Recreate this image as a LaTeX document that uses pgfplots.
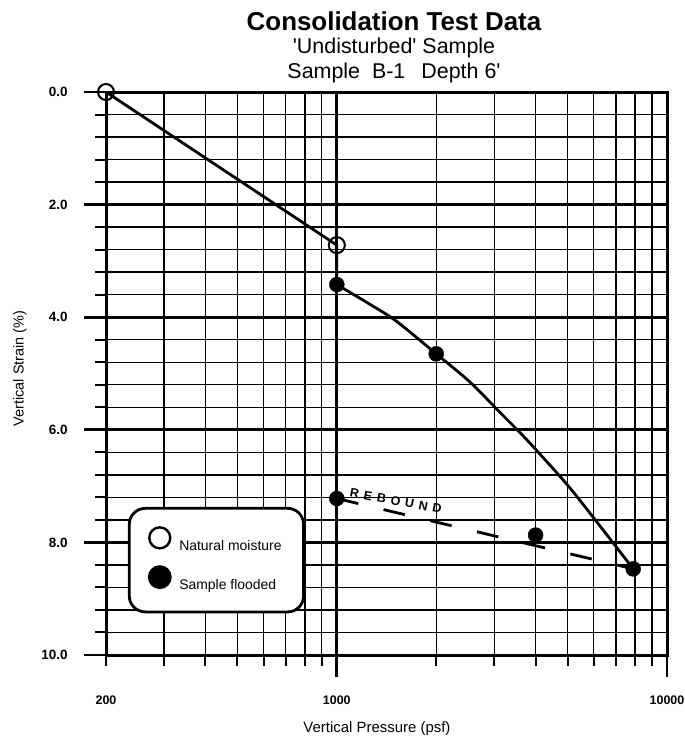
\documentclass[border=0pt]{standalone}
\usepackage{fontspec}
\setmainfont{Liberation Sans}
\usepackage{pgfplots}
\pgfplotsset{compat=1.18}
\begin{document}
\begin{tikzpicture}
\useasboundingbox (-106bp,-86bp) rectangle (579bp,655bp);
\begin{axis}[
  at={(0,0)}, anchor=south west,
  scale only axis, width=561bp, height=563bp,
  xmode=log, xmin=200, xmax=10000,
  ymin=0, ymax=10, y dir=reverse,
  axis line style={line width=3bp, black},
  xtick={1000,10000}, xticklabels={1000,10000},
  extra x ticks={200}, extra x tick labels={200},
  extra x tick style={major tick length=11bp, grid=none, xticklabel style={yshift=-11bp}},
  minor xtick={300,400,500,600,700,800,900,2000,3000,4000,5000,6000,7000,8000,9000},
  ytick={0,2,4,6,8,10},
  yticklabels={0.0,2.0,4.0,6.0,8.0,10.0},
  minor y tick num=4,
  xtick pos=bottom, ytick pos=left,
  tick align=outside,
  major tick length=22bp, minor tick length=11bp,
  every major tick/.style={line width=2.8bp, black},
  every minor tick/.style={line width=2bp, black},
  grid=both,
  major grid style={line width=2.8bp, black},
  minor grid style={line width=1.4bp, black},
  /pgf/number format/assume math mode=true,
  xticklabel style={font=\fontsize{12.5}{14}\selectfont\bfseries, anchor=center, yshift=-23bp},
  yticklabel style={font=\fontsize{13.5}{15}\selectfont\bfseries, anchor=east, xshift=-13bp},
  xlabel={Vertical Pressure (psf)},
  ylabel={Vertical Strain (\%)},
  xlabel style={font=\fontsize{15}{17}\selectfont, at={(axis description cs:0.483,-0.131)}, anchor=center},
  ylabel style={font=\fontsize{14.5}{16}\selectfont, at={(axis description cs:-0.1533,0.509)}, anchor=center},
  legend cell align=left,
  legend image code/.code={\draw[#1] plot coordinates {(0bp,8bp)};},
  legend style={at={(axis description cs:0.039,0.263)}, anchor=north west,
    draw=black, line width=2.8bp, rounded corners=16bp, fill=white,
    font=\fontsize{14}{16}\selectfont,
    inner xsep=20bp, inner ysep=19bp, row sep=13bp, column sep=7bp},
]
\addplot[forget plot, line width=2.8bp, black, no marks] coordinates {(200,0) (1000,2.72) (1000,3.42)};
\addplot[forget plot, line width=2.8bp, black, no marks, smooth] coordinates {
  (1000,3.42) (1259,3.77) (1514,4.07) (2000,4.65) (2529,5.15) (3118,5.69)
  (3767,6.18) (4977,6.97) (6137,7.64) (7900,8.47)};
\addplot[forget plot, line width=2.8bp, black, no marks, dash pattern=on 22bp off 26bp] coordinates {(1000,7.22) (7900,8.47)};
\addplot[forget plot, only marks, mark=o, mark size=8bp, mark options={line width=2bp, fill=white, black}] coordinates {(200,0) (1000,2.72)};
\addplot[forget plot, only marks, mark=*, mark size=7.5bp, black] coordinates {(1000,3.42) (2000,4.65) (7900,8.47) (1000,7.22) (4000,7.87)};
\node[rotate=-10.5, font=\fontsize{12.5}{14}\selectfont\bfseries\addfontfeature{LetterSpace=40}] at (axis cs:1510,7.26) {REBOUND};
\addlegendimage{only marks, mark=o, mark size=10.5bp, mark options={line width=2.4bp, black, fill=white}}
\addlegendentry{Natural moisture}
\addlegendimage{only marks, mark=*, mark size=10.5bp, black}
\addlegendentry{Sample flooded}
\end{axis}
\node[anchor=base, font=\fontsize{26}{28}\selectfont\bfseries] at (288bp,624.7bp) {Consolidation Test Data};
\node[anchor=base, font=\fontsize{21.5}{23}\selectfont] at (288bp,601.3bp) {\textquotesingle Undisturbed\textquotesingle{} Sample};
\node[anchor=base, font=\fontsize{21.5}{23}\selectfont] at (288bp,576.3bp) {Sample\hspace{12bp}B-1\hspace{16bp}Depth 6\textquotesingle};
\end{tikzpicture}
\end{document}
